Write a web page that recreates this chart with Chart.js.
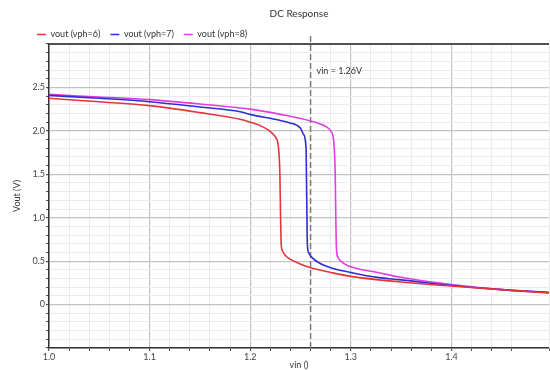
<!DOCTYPE html>
<html>
<head>
<meta charset="utf-8">
<script src="https://cdn.jsdelivr.net/npm/chart.js@4/dist/chart.umd.min.js"></script>
<style>
  html, body { margin: 0; padding: 0; background: #fff; }
  #wrap { width: 550px; height: 370px; }
</style>
</head>
<body>
<div id="wrap"><canvas id="myChart"></canvas></div>
<script>
// vout vs vin
const vin6  = [1.00, 1.05, 1.10, 1.15, 1.19, 1.20, 1.21, 1.219, 1.225, 1.228, 1.2295, 1.2302, 1.2308, 1.232, 1.235, 1.24, 1.249, 1.261, 1.28, 1.30, 1.35, 1.40, 1.45, 1.497];
const vout6 = [2.375, 2.335, 2.29, 2.21, 2.133, 2.10, 2.06, 2.00, 1.93, 1.82, 1.50, 1.00, 0.70, 0.62, 0.565, 0.52, 0.47, 0.42, 0.37, 0.325, 0.26, 0.213, 0.172, 0.133];

const vin7  = [1.00, 1.05, 1.10, 1.15, 1.19, 1.20, 1.23, 1.239, 1.250, 1.253, 1.2555, 1.2562, 1.2568, 1.258, 1.261, 1.27, 1.28, 1.30, 1.328, 1.348, 1.40, 1.45, 1.497];
const vout7 = [2.408, 2.375, 2.335, 2.274, 2.22, 2.19, 2.12, 2.094, 2.03, 1.96, 1.80, 1.20, 0.70, 0.60, 0.546, 0.47, 0.425, 0.37, 0.31, 0.287, 0.22, 0.172, 0.138];

const vin8  = [1.00, 1.05, 1.10, 1.15, 1.20, 1.23, 1.261, 1.275, 1.28, 1.283, 1.2845, 1.2851, 1.2857, 1.287, 1.29, 1.2985, 1.308, 1.328, 1.348, 1.40, 1.45, 1.497];
const vout8 = [2.42, 2.39, 2.36, 2.31, 2.25, 2.19, 2.11, 2.05, 2.00, 1.88, 1.50, 1.00, 0.65, 0.55, 0.50, 0.44, 0.41, 0.367, 0.317, 0.23, 0.172, 0.141];

const seriesNames = ['vout (vph=6)', 'vout (vph=7)', 'vout (vph=8)'];
const markerVin = 1.26;
const markerLabel = 'vin = 1.26V';

const FONT = 'Lato, "Open Sans", sans-serif';

function pts(xs, ys) {
    return xs.map((x, i) => ({x: x, y: ys[i]}));
}
function isMult(v, step) {
    const k = v / step;
    return Math.abs(k - Math.round(k)) < 1e-6;
}

// pull the plot up under the legend (legend adds a fixed 10px below itself)
const tightLegend = {
    id: 'tightLegend',
    afterInit(chart) {
        const lg = chart.legend;
        if (!lg) return;
        const fit = lg.fit;
        lg.fit = function () {
            fit.call(this);
            this.height = Math.max(0, this.height - 5);
        };
    }
};

// dark frame line along the top of the plot + the marker caption
const frameAndText = {
    id: 'frameAndText',
    afterDraw(chart) {
        const {ctx, chartArea, scales} = chart;
        ctx.save();
        ctx.strokeStyle = '#505050';
        ctx.lineWidth = 2;
        ctx.setLineDash([]);
        ctx.beginPath();
        ctx.moveTo(chartArea.left, chartArea.top);
        ctx.lineTo(chartArea.right, chartArea.top);
        ctx.stroke();

        ctx.font = '9px ' + FONT;
        ctx.fillStyle = '#333';
        ctx.textBaseline = 'middle';
        ctx.fillText(markerLabel, scales.x.getPixelForValue(markerVin) + 6, scales.y.getPixelForValue(2.69));
        ctx.restore();
    }
};

const ctx = document.getElementById('myChart');

new Chart(ctx, {
    type: 'line',
    data: {
        datasets: [{
            label: seriesNames[0],
            data: pts(vin6, vout6),
            borderColor: '#e5343a',
            backgroundColor: '#e5343a',
            borderWidth: 1.6,
            pointRadius: 0,
            cubicInterpolationMode: 'monotone'
        }, {
            label: seriesNames[1],
            data: pts(vin7, vout7),
            borderColor: '#2e2ed2',
            backgroundColor: '#2e2ed2',
            borderWidth: 1.6,
            pointRadius: 0,
            cubicInterpolationMode: 'monotone'
        }, {
            label: seriesNames[2],
            data: pts(vin8, vout8),
            borderColor: '#e03ee4',
            backgroundColor: '#e03ee4',
            borderWidth: 1.6,
            pointRadius: 0,
            cubicInterpolationMode: 'monotone'
        }, {
            label: 'marker',
            data: [{x: markerVin, y: -0.5}, {x: markerVin, y: 3.11}],
            borderColor: '#7a7a7a',
            borderWidth: 1.5,
            borderDash: [6, 3],
            pointRadius: 0,
            clip: {left: 0, top: 12, right: 0, bottom: 0}
        }]
    },
    options: {
        animation: false,
        responsive: true,
        maintainAspectRatio: false,
        layout: {padding: {left: 27, right: 0, top: 0, bottom: 0}},
        plugins: {
            title: {
                display: true,
                text: 'DC Response',
                fullSize: false,
                color: '#333',
                font: {family: FONT, size: 10, weight: 'normal'},
                padding: {top: 8, bottom: 0}
            },
            legend: {
                display: true,
                position: 'top',
                align: 'start',
                labels: {
                    boxWidth: 9,
                    boxHeight: 0,
                    padding: 10,
                    color: '#333',
                    font: {family: FONT, size: 9},
                    filter: item => item.text !== 'marker'
                }
            },
            tooltip: {enabled: false}
        },
        scales: {
            x: {
                type: 'linear',
                min: 1.0,
                max: 1.497,
                afterFit: s => { s.height = 22; },
                border: {display: true, color: '#333', width: 1.5},
                grid: {
                    color: c => isMult(c.tick.value, 0.1) ? '#c2c2c2' : '#ebebeb',
                    lineWidth: c => isMult(c.tick.value, 0.1) ? 1.2 : 1,
                    tickColor: '#555',
                    tickLength: 3
                },
                ticks: {
                    stepSize: 0.02,
                    maxTicksLimit: 200,
                    autoSkip: false,
                    maxRotation: 0,
                    padding: 1,
                    color: '#444',
                    font: {family: FONT, size: 9},
                    callback: v => (isMult(v, 0.1) && v < 1.45) ? v.toFixed(1) : ''
                },
                title: {
                    display: true,
                    text: 'vin ()',
                    color: '#333',
                    font: {family: FONT, size: 9},
                    padding: {top: 0, bottom: 0}
                }
            },
            y: {
                type: 'linear',
                min: -0.5,
                max: 3.0,
                afterFit: s => { s.width = 22; },
                border: {display: true, color: '#333', width: 1.5},
                grid: {
                    color: c => isMult(c.tick.value, 0.5) ? '#c2c2c2' : '#ebebeb',
                    lineWidth: c => isMult(c.tick.value, 0.5) ? 1.2 : 1,
                    tickColor: '#555',
                    tickLength: 3
                },
                ticks: {
                    stepSize: 0.1,
                    maxTicksLimit: 200,
                    autoSkip: false,
                    padding: 1,
                    color: '#444',
                    font: {family: FONT, size: 9},
                    callback: v => {
                        if (!isMult(v, 0.5) || v < -0.4 || v > 2.9) return '';
                        return Math.abs(v) < 1e-6 ? '0' : v.toFixed(1);
                    }
                },
                title: {
                    display: true,
                    text: 'Vout (V)',
                    color: '#333',
                    font: {family: FONT, size: 9},
                    padding: {top: -15, bottom: 0}
                }
            }
        }
    },
    plugins: [tightLegend, frameAndText]
});
</script>
</body>
</html>
